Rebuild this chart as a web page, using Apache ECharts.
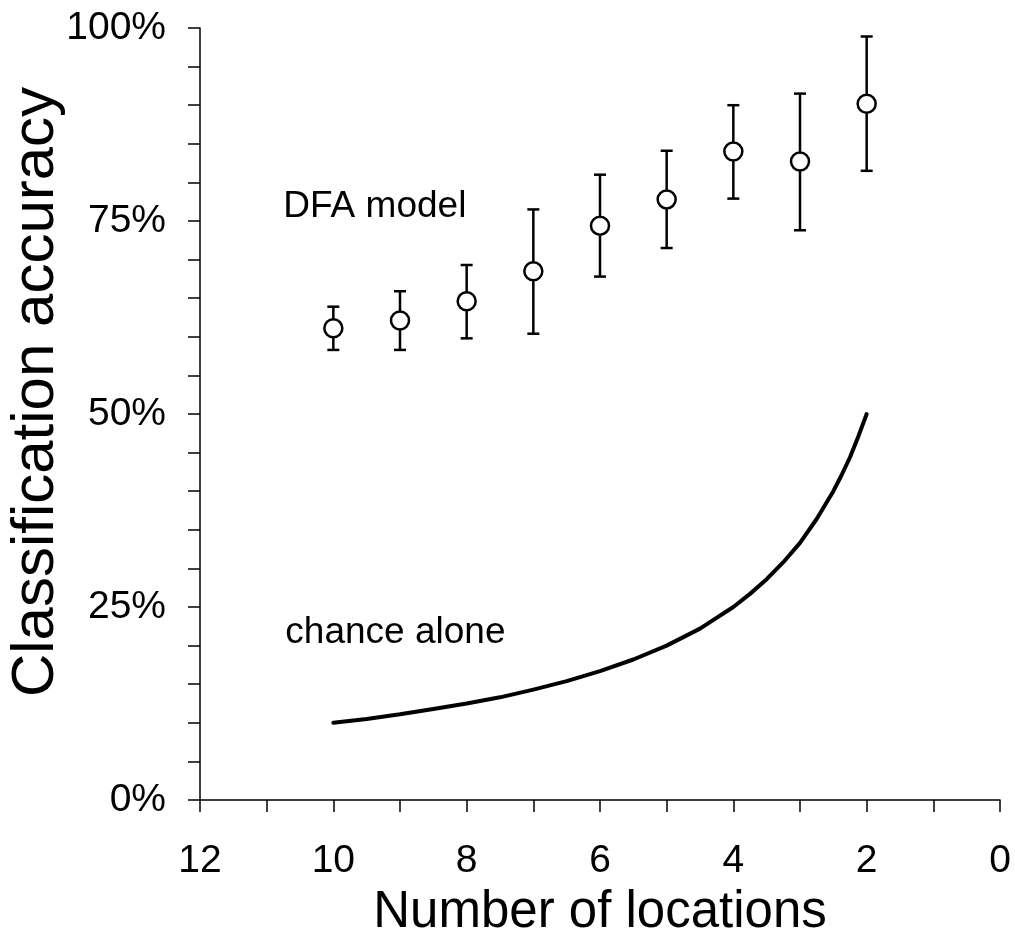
<!DOCTYPE html>
<html>
<head>
<meta charset="utf-8">
<script src="https://cdn.jsdelivr.net/npm/echarts@6/dist/echarts.min.js"></script>
<style>
  html, body { margin: 0; padding: 0; background: #ffffff; }
  #chart { width: 1015px; height: 932px; }
</style>
</head>
<body>
<div id="chart"></div>
<script>
// DFA model classification accuracy (%) by number of locations, with error range
const locations = [10, 9, 8, 7, 6, 5, 4, 3, 2];
const dfaMean   = [61.1, 62.1, 64.6, 68.5, 74.4, 77.8, 84.0, 82.7, 90.2];
const dfaUpper  = [63.9, 65.9, 69.3, 76.5, 81.0, 84.1, 90.0, 91.5, 98.9];
const dfaLower  = [58.3, 58.3, 59.8, 60.4, 67.8, 71.5, 77.9, 73.8, 81.5];

// Accuracy expected from chance alone
const chanceX = [10, 9.5, 9, 8.5, 8, 7.5, 7, 6.5, 6, 5.5, 5, 4.5, 4, 3.75, 3.5, 3.25, 3, 2.75, 2.5, 2.375, 2.25, 2.125, 2];
const chanceY = [10, 10.5, 11.1, 11.8, 12.5, 13.3, 14.3, 15.4, 16.7, 18.2, 20, 22.2, 25, 26.7, 28.6, 30.8, 33.3, 36.4, 40, 42.1, 44.4, 47.1, 50];

// In-plot annotations: [x, y, text]
const notes = [
  [10.75, 76.8, 'DFA model'],
  [10.72, 21.6, 'chance alone']
];

const FONT = '"Liberation Sans", Arial, Helvetica, sans-serif';

const chart = echarts.init(document.getElementById('chart'), null, { renderer: 'canvas' });

const errData = locations.map((x, i) => [x, dfaLower[i], dfaUpper[i]]);
const meanData = locations.map((x, i) => [x, dfaMean[i]]);
const chanceData = chanceX.map((x, i) => [x, chanceY[i]]);

const axisLineStyle = { color: '#000', width: 1.5 };
const tickStyle = { color: '#000', width: 1.5 };

chart.setOption({
  backgroundColor: '#ffffff',
  animation: false,
  grid: { left: 200, right: 15, top: 28, bottom: 132, containLabel: false, outerBoundsMode: 'none' },
  xAxis: {
    type: 'value',
    min: 0, max: 12, interval: 2,
    inverse: true,
    name: 'Number of locations',
    nameLocation: 'middle',
    nameGap: 87,
    nameTextStyle: { fontFamily: FONT, fontSize: 51, color: '#000' },
    axisLine: { show: true, onZero: false, lineStyle: axisLineStyle },
    axisTick: { show: true, length: 12, lineStyle: tickStyle },
    minorTick: { show: true, splitNumber: 2, length: 12, lineStyle: tickStyle },
    splitLine: { show: false },
    minorSplitLine: { show: false },
    axisLabel: { fontFamily: FONT, fontSize: 39, color: '#000', margin: 42 }
  },
  yAxis: {
    type: 'value',
    position: 'left',
    min: 0, max: 100, interval: 25,
    axisLine: { show: true, onZero: false, lineStyle: axisLineStyle },
    axisTick: { show: true, length: 12, lineStyle: tickStyle },
    minorTick: { show: true, splitNumber: 5, length: 12, lineStyle: tickStyle },
    splitLine: { show: false },
    minorSplitLine: { show: false },
    axisLabel: { fontFamily: FONT, fontSize: 39, color: '#000', margin: 34, formatter: '{value}%' }
  },
  graphic: [{
    type: 'text',
    x: 36, y: 392,
    rotation: Math.PI / 2,
    style: {
      text: 'Classification accuracy',
      fontFamily: FONT, fontSize: 60, fill: '#000',
      textAlign: 'center', textVerticalAlign: 'middle'
    }
  }],
  series: [
    {
      name: 'chance alone',
      type: 'line',
      data: chanceData,
      smooth: false,
      symbol: 'none',
      lineStyle: { color: '#000', width: 4, cap: 'round', join: 'round' },
      z: 2
    },
    {
      name: 'DFA range',
      type: 'custom',
      data: errData,
      renderItem: function (params, api) {
        const x = api.value(0);
        const pLo = api.coord([x, api.value(1)]);
        const pHi = api.coord([x, api.value(2)]);
        const half = 6;
        const st = { stroke: '#000', lineWidth: 2.5 };
        return {
          type: 'group',
          children: [
            { type: 'line', shape: { x1: pHi[0], y1: pHi[1], x2: pLo[0], y2: pLo[1] }, style: st },
            { type: 'line', shape: { x1: pHi[0] - half, y1: pHi[1], x2: pHi[0] + half, y2: pHi[1] }, style: st },
            { type: 'line', shape: { x1: pLo[0] - half, y1: pLo[1], x2: pLo[0] + half, y2: pLo[1] }, style: st }
          ]
        };
      },
      z: 3
    },
    {
      name: 'DFA model',
      type: 'scatter',
      data: meanData,
      symbol: 'circle',
      symbolSize: 18,
      itemStyle: { color: '#ffffff', borderColor: '#000', borderWidth: 2.5, opacity: 1 },
      emphasis: { disabled: true },
      z: 4
    },
    {
      name: 'notes',
      type: 'scatter',
      data: notes,
      symbolSize: 0,
      silent: true,
      itemStyle: { opacity: 1 },
      emphasis: { disabled: true },
      label: {
        show: true,
        position: [0, 0],
        align: 'left',
        verticalAlign: 'middle',
        fontFamily: FONT,
        fontSize: 37,
        color: '#000',
        opacity: 1,
        formatter: function (p) { return p.data[2]; }
      },
      z: 5
    }
  ]
});
</script>
</body>
</html>
